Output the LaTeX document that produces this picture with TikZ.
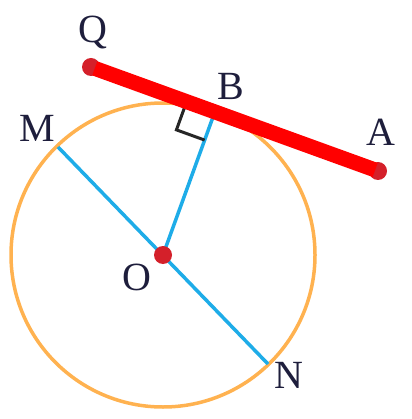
\documentclass[tikz,border=0pt]{standalone}
\usepackage{fontspec}
\setmainfont{Liberation Serif}
\usetikzlibrary{calc}
\definecolor{orng}{RGB}{255,178,80}
\definecolor{skyb}{RGB}{30,172,232}
\definecolor{dotred}{RGB}{212,32,42}
\definecolor{linered}{RGB}{255,0,0}
\definecolor{txt}{RGB}{30,30,60}
\begin{document}
\begin{tikzpicture}[x=1pt,y=-1pt,
  lbl/.style={font=\fontsize{40}{40}\selectfont, text=txt, inner sep=0pt},
  circ/.style={draw=orng, line width=3.5pt},
  seg/.style={draw=skyb, line width=3.5pt},
  rmark/.style={draw=black!85, line width=3pt},
  thick red/.style={draw=linered, line width=15pt},
  pt/.style={fill=dotred}]
\useasboundingbox (0,0) rectangle (411,419);
\coordinate (O) at (163,255);
\coordinate (Q) at (91,67);
\coordinate (A) at (378,171);
\coordinate (B) at ($(Q)!(O)!(A)$);
\coordinate (M) at (58,147);
\coordinate (N) at (268,364);
\coordinate (c1) at ($(B)!30pt!(Q)$);
\coordinate (c3) at ($(B)!30pt!(O)$);
\coordinate (c2) at ($(c1)+(c3)-(B)$);
\draw[circ] (O) circle (152);
\draw[seg] (M) -- (N);
\draw[seg] (O) -- (B);
\draw[rmark] (c1) -- (c2) -- (c3);
\fill[pt] (Q) circle (9);
\fill[pt] (A) circle (9);
\draw[thick red] ($(Q)!4pt!(A)$) -- ($(A)!3pt!(Q)$);
\fill[pt] (O) circle (9);
\node[lbl] (lQ) at (93,33) {Q};
\node[lbl] (lB) at (231,86) {B};
\node[lbl] (lA) at (381,132) {A};
\node[lbl] (lM) at (37,128) {M};
\node[lbl] (lO) at (137,277) {O};
\node[lbl] (lN) at (289,375) {N};
\end{tikzpicture}
\end{document}
